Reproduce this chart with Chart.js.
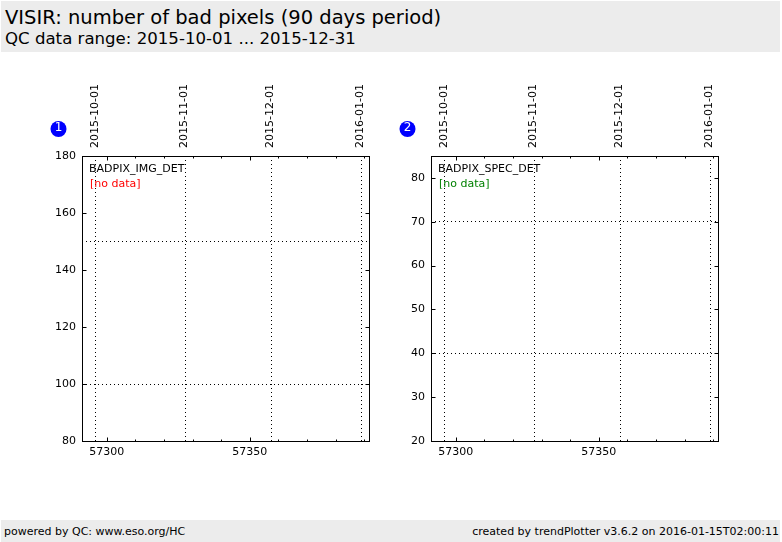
<!DOCTYPE html>
<html>
<head>
<meta charset="utf-8">
<script src="https://cdn.jsdelivr.net/npm/chart.js@4.4.1/dist/chart.umd.min.js"></script>
<style>
  html, body { margin: 0; padding: 0; background: #fff; }
  body { width: 782px; height: 542px; position: relative; overflow: hidden; font-family: "DejaVu Sans", sans-serif; }
  .band { position: absolute; left: 1px; width: 779px; background: #ececec; }
  #head { top: 1px; height: 51px; }
  #foot { top: 520px; height: 22px; font-size: 11px; }
  .t1 { position: absolute; left: 4px; top: 5px; font-size: 19.5px; white-space: nowrap; }
  .t2 { position: absolute; left: 4px; top: 28px; font-size: 16.6px; white-space: nowrap; }
  .fl { position: absolute; left: 3px; top: 5px; }
  .fr { position: absolute; right: 1px; top: 5px; }
  canvas { position: absolute; top: 61px; }
</style>
</head>
<body>
<div class="band" id="head">
  <div class="t1">VISIR: number of bad pixels (90 days period)</div>
  <div class="t2">QC data range: 2015-10-01 ... 2015-12-31</div>
</div>
<canvas id="c1" width="391" height="460" style="left:0px"></canvas>
<canvas id="c2" width="391" height="460" style="left:349px"></canvas>
<div class="band" id="foot">
  <span class="fl">powered by QC: www.eso.org/HC</span>
  <span class="fr">created by trendPlotter v3.6.2 on 2016-01-15T02:00:11</span>
</div>
<script>
// top axis: calendar dates and their MJD
const dateLabels = ['2015-10-01', '2015-11-01', '2015-12-01', '2016-01-01'];
const dateMjd = [57296, 57327, 57357, 57388];
const dateMin = 57291.2;
const dateMax = 57390.7;

// bottom axis: MJD
const mjdMin = 57291.3;
const mjdMax = 57391.7;
const mjdTicks = [57300, 57310, 57320, 57330, 57340, 57350, 57360, 57370, 57380, 57390];
const mjdLabelled = [57300, 57350];

// panels
const panelNums = ['1', '2'];
const panelNames = ['BADPIX_IMG_DET', 'BADPIX_SPEC_DET'];
const yMin = [80, 20];
const yMax = [180, 85];
const yTicks1 = [80, 100, 120, 140, 160, 180];
const yTicks2 = [20, 30, 40, 50, 60, 70, 80];
const yGrid1 = [100, 150];
const yGrid2 = [40, 70];

// no data in the period
const series1 = [];
const series2 = [];

Chart.defaults.font.family = 'DejaVu Sans';
Chart.defaults.font.size = 11;
Chart.defaults.color = '#000';

// frame, inward ticks, labels inside the plot, panel number
const framePlugin = {
  id: 'frame',
  afterDraw(chart, args, opts) {
    const c = chart.ctx;
    const a = chart.chartArea;
    const L = Math.round(a.left) + 0.5, R = Math.round(a.right) + 0.5;
    const T = Math.round(a.top) + 0.5, B = Math.round(a.bottom) + 0.5;
    c.save();
    c.strokeStyle = '#000';
    c.lineWidth = 1;
    c.beginPath();
    const ys = chart.scales.y;
    ys.ticks.forEach(t => {
      const p = Math.round(ys.getPixelForValue(t.value)) + 0.5;
      c.moveTo(L, p); c.lineTo(L + 4, p);
      c.moveTo(R, p); c.lineTo(R - 4, p);
    });
    const xs = chart.scales.x;
    xs.ticks.forEach(t => {
      const p = Math.round(xs.getPixelForValue(t.value)) + 0.5;
      const len = mjdLabelled.includes(t.value) ? 4 : 2;
      c.moveTo(p, B); c.lineTo(p, B - len);
      c.moveTo(p, T); c.lineTo(p, T + len);
    });
    c.stroke();
    c.strokeRect(L, T, R - L, B - T);

    c.font = '11px "DejaVu Sans"';
    c.textBaseline = 'alphabetic';
    c.textAlign = 'left';
    c.fillStyle = '#000';
    c.fillText(opts.name, L + 6.5, T + 15.5);
    c.fillStyle = opts.noDataColor;
    c.fillText('[no data]', L + 7.5, T + 30.5);

    c.beginPath();
    c.arc(L - 24, T - 27.5, 8, 0, Math.PI * 2);
    c.fillStyle = '#0000ff';
    c.fill();
    c.fillStyle = '#fff';
    c.font = '12px "DejaVu Sans"';
    c.textAlign = 'center';
    c.textBaseline = 'middle';
    c.fillText(opts.num, L - 24, T - 28.5);
    c.restore();
  }
};

function makePanel(id, idx, data, yTicks, yGrid, noDataColor) {
  const ctx = document.getElementById(id);
  return new Chart(ctx, {
    type: 'scatter',
    plugins: [framePlugin],
    data: {
      datasets: [{
        label: panelNames[idx],
        data: data,
        borderColor: '#000',
        backgroundColor: '#000',
        pointRadius: 2
      }]
    },
    options: {
      responsive: false,
      animation: false,
      layout: { padding: { left: 0, right: 22, top: 0, bottom: 0 } },
      plugins: {
        legend: { display: false },
        tooltip: { enabled: false },
        frame: { name: panelNames[idx], num: panelNums[idx], noDataColor: noDataColor }
      },
      scales: {
        x: {
          type: 'linear',
          position: 'bottom',
          min: mjdMin,
          max: mjdMax,
          afterBuildTicks: s => { s.ticks = mjdTicks.map(v => ({ value: v })); },
          afterFit: s => { s.height = 80; },
          ticks: {
            autoSkip: false,
            maxRotation: 0,
            padding: 5,
            callback: v => mjdLabelled.includes(v) ? String(v) : ''
          },
          grid: { display: false, drawTicks: false },
          border: { display: false }
        },
        xt: {
          type: 'linear',
          position: 'top',
          min: dateMin,
          max: dateMax,
          afterBuildTicks: s => { s.ticks = dateMjd.map(v => ({ value: v })); },
          afterFit: s => { s.height = 95; },
          ticks: {
            autoSkip: false,
            minRotation: 90,
            maxRotation: 90,
            padding: 8,
            labelOffset: 12,
            callback: (v, i) => dateLabels[i]
          },
          grid: { drawTicks: false, color: '#000', lineWidth: 1 },
          border: { display: false, dash: [1, 3] }
        },
        y: {
          type: 'linear',
          position: 'left',
          min: yMin[idx],
          max: yMax[idx],
          afterBuildTicks: s => { s.ticks = yTicks.map(v => ({ value: v })); },
          afterFit: s => { s.width = 82; },
          ticks: { padding: 6 },
          grid: { display: false, drawTicks: false },
          border: { display: false }
        },
        yg: {
          type: 'linear',
          position: 'left',
          min: yMin[idx],
          max: yMax[idx],
          afterBuildTicks: s => { s.ticks = yGrid.map(v => ({ value: v })); },
          afterFit: s => { s.width = 0; },
          ticks: { display: false },
          grid: { drawTicks: false, color: '#000', lineWidth: 1 },
          border: { display: false, dash: [1, 3] }
        }
      }
    }
  });
}

makePanel('c1', 0, series1, yTicks1, yGrid1, '#ff0000');
makePanel('c2', 1, series2, yTicks2, yGrid2, '#008000');
</script>
</body>
</html>
